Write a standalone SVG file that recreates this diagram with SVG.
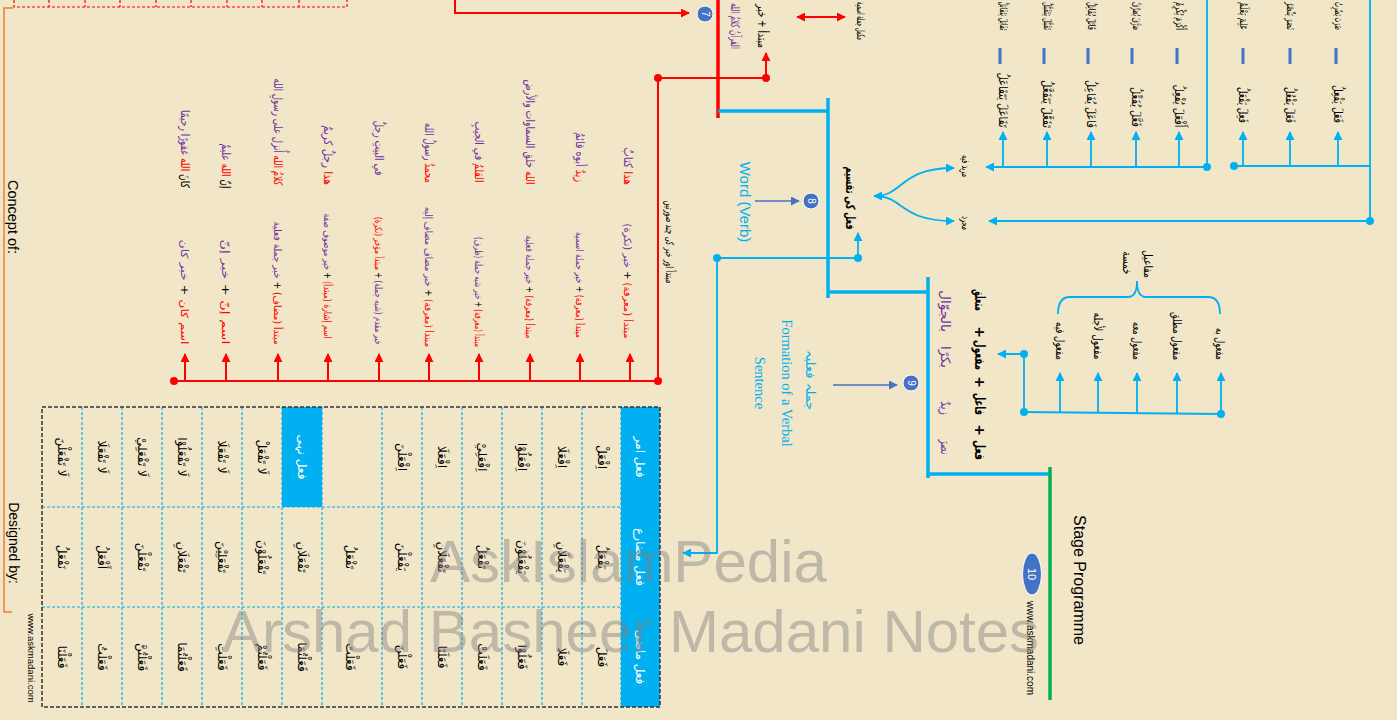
<svg xmlns="http://www.w3.org/2000/svg" width="1397" height="720" viewBox="0 0 1397 720">
<defs>
<marker id="mr" viewBox="0 0 10 10" refX="9" refY="5" markerWidth="9" markerHeight="9" markerUnits="userSpaceOnUse" orient="auto-start-reverse"><path d="M0,0 L10,5 L0,10 z" fill="#FF0000"/></marker>
<marker id="mb" viewBox="0 0 10 10" refX="9" refY="5" markerWidth="9" markerHeight="9" markerUnits="userSpaceOnUse" orient="auto-start-reverse"><path d="M0,0 L10,5 L0,10 z" fill="#00B0F0"/></marker>
<marker id="md" viewBox="0 0 10 10" refX="9" refY="5" markerWidth="9" markerHeight="9" markerUnits="userSpaceOnUse" orient="auto-start-reverse"><path d="M0,0 L10,5 L0,10 z" fill="#4472C4"/></marker>
<style>
.ar{font-family:"DejaVu Sans","Noto Sans",sans-serif;direction:rtl;text-anchor:middle;dominant-baseline:central;fill:#000}
.en{font-family:"Liberation Sans",Arial,sans-serif;text-anchor:middle;dominant-baseline:central}
.f9{font-size:9px}.f10{font-size:10px}.f11{font-size:11px}.f12{font-size:12px}.f13{font-size:13px}.f14{font-size:14px}
.r{fill:#FF0000}.p{fill:#7030A0}.k{fill:#000}.w{fill:#fff}.bl{fill:#00B0F0}
.lr{stroke:#FF0000;stroke-width:2;fill:none}
.lb{stroke:#00B0F0;stroke-width:1.8;fill:none}
.lbt{stroke:#00B0F0;stroke-width:3.5;fill:none}
.dr{fill:#FF0000}.db{fill:#00B0F0}
.node circle,.node ellipse{fill:#4472C4;stroke:#fff;stroke-width:1}
.dash{stroke:#00B0F0;stroke-width:1.2;stroke-dasharray:3,2;fill:none}
.dash2{stroke:#4472C4;stroke-width:3}
</style>
</defs>
<rect width="1397" height="720" fill="#F1E6C8"/>

<!-- top-left red dashed table remnant -->
<g id="red-table" stroke="#FF0000" stroke-width="1.2" stroke-dasharray="3,2" fill="none">
<path d="M14,0 V7 H347 V0 M49,0 V7 M85,0 V7 M120,0 V7 M156,0 V7 M191,0 V7 M227,0 V7 M262,0 V7 M299,0 V7"/>
</g>

<!-- orange frame -->
<path d="M13,8 H4 V612 H12" stroke="#ED7D31" stroke-width="1.5" fill="none"/>
<text class="en" font-size="14.5" transform="translate(13,217) rotate(90)">Concept of:</text>
<text class="en" font-size="14" transform="translate(14,543) rotate(90)">Designed by:</text>
<text class="en" font-size="9.5" transform="translate(31,658) rotate(90)">www.askmadani.com</text>

<!-- connectors -->
<g id="connectors">
<path class="lr" d="M455,0 V13 H689" marker-end="url(#mr)"/>
<line x1="718" y1="0" x2="718" y2="118" stroke="#FF0000" stroke-width="3.5"/>
<path class="lr" d="M658,381 V78 H766"/>
<line class="lr" x1="766" y1="78" x2="766" y2="53" marker-end="url(#mr)"/>
<line class="lr" x1="797" y1="17" x2="845" y2="17" stroke-width="1.5" marker-start="url(#mr)" marker-end="url(#mr)"/>
<line class="lr" x1="174" y1="381" x2="658" y2="381"/>
<g marker-end="url(#mr)">
<line class="lr" x1="185" y1="381" x2="185" y2="354"/>
<line class="lr" x1="226" y1="381" x2="226" y2="354"/>
<line class="lr" x1="278" y1="381" x2="278" y2="354"/>
<line class="lr" x1="328" y1="381" x2="328" y2="354"/>
<line class="lr" x1="379" y1="381" x2="379" y2="354"/>
<line class="lr" x1="429" y1="381" x2="429" y2="354"/>
<line class="lr" x1="479" y1="381" x2="479" y2="354"/>
<line class="lr" x1="530" y1="381" x2="530" y2="354"/>
<line class="lr" x1="580" y1="381" x2="580" y2="354"/>
<line class="lr" x1="630" y1="381" x2="630" y2="354"/>
</g>
<circle class="dr" cx="174" cy="381" r="4"/>
<circle class="dr" cx="658" cy="381" r="4"/>
<circle class="dr" cx="658" cy="78" r="4"/>
<circle class="dr" cx="766" cy="78" r="4"/>

<path class="lbt" d="M718,111 H828 M828,98 V298 M828,292 H928 M928,277 V478 M928,474 H1050"/>
<line x1="1050" y1="467" x2="1050" y2="700" stroke="#00B050" stroke-width="3.5"/>

<path class="lb" d="M717,258 H858"/>
<line class="lb" x1="858" y1="258" x2="858" y2="233" marker-end="url(#mb)"/>
<path class="lb" d="M717,258 V553 H683" marker-end="url(#mb)"/>
<circle class="db" cx="717" cy="258" r="4"/>
<circle class="db" cx="858" cy="258" r="4"/>

<line x1="755" y1="201" x2="799" y2="201" stroke="#4472C4" stroke-width="1.5" marker-end="url(#md)"/>
<line x1="833" y1="385" x2="897" y2="385" stroke="#4472C4" stroke-width="1.5" marker-end="url(#md)"/>

<path class="lb" d="M874,196 C905,196 898,168 954,168" marker-start="url(#mb)" marker-end="url(#mb)"/>
<path class="lb" d="M874,196 C905,196 898,221 954,221" marker-end="url(#mb)"/>

<path class="lb" d="M1207,0 V167 H986" marker-end="url(#mb)"/>
<circle class="db" cx="1207" cy="167" r="4"/>
<g marker-end="url(#mb)">
<line class="lb" x1="1003" y1="167" x2="1003" y2="132"/>
<line class="lb" x1="1047" y1="167" x2="1047" y2="132"/>
<line class="lb" x1="1091" y1="167" x2="1091" y2="132"/>
<line class="lb" x1="1136" y1="167" x2="1136" y2="132"/>
<line class="lb" x1="1179" y1="167" x2="1179" y2="132"/>
</g>
<path class="lb" d="M1234,166 H1370 M1370,0 V221 H989" marker-end="url(#mb)"/>
<circle class="db" cx="1234" cy="166" r="4"/>
<circle class="db" cx="1370" cy="221" r="4"/>
<g marker-end="url(#mb)">
<line class="lb" x1="1243" y1="166" x2="1243" y2="132"/>
<line class="lb" x1="1290" y1="166" x2="1290" y2="132"/>
<line class="lb" x1="1338" y1="166" x2="1338" y2="132"/>
</g>

<path class="lb" d="M1024,412 V354 H998" marker-end="url(#mb)"/>
<path class="lb" d="M1024,412 L1221,414"/>
<circle class="db" cx="1024" cy="354" r="4"/>
<circle class="db" cx="1024" cy="412" r="4"/>
<circle class="db" cx="1221" cy="414" r="4"/>
<g marker-end="url(#mb)">
<line class="lb" x1="1060" y1="413" x2="1060" y2="373"/>
<line class="lb" x1="1098" y1="413" x2="1098" y2="373"/>
<line class="lb" x1="1137" y1="413" x2="1137" y2="373"/>
<line class="lb" x1="1177" y1="414" x2="1177" y2="373"/>
<line class="lb" x1="1221" y1="414" x2="1221" y2="373"/>
</g>
<path class="lb" d="M1058,314 Q1058,297 1070,297 H1128 Q1137,297 1137,281 Q1137,297 1146,297 H1208 Q1220,297 1220,314"/>

<g class="dash2">
<line x1="1000" y1="48" x2="1000" y2="64"/><line x1="1044" y1="48" x2="1044" y2="64"/>
<line x1="1088" y1="48" x2="1088" y2="64"/><line x1="1132" y1="48" x2="1132" y2="64"/>
<line x1="1177" y1="48" x2="1177" y2="64"/><line x1="1243" y1="48" x2="1243" y2="64"/>
<line x1="1290" y1="48" x2="1290" y2="64"/><line x1="1336" y1="48" x2="1336" y2="64"/>
</g>
</g>

<!-- nodes -->
<g id="node7" class="node"><circle cx="705" cy="14" r="8"/><text class="en w" font-size="10" transform="translate(705,14) rotate(90)">7</text></g>
<g id="node8" class="node"><circle cx="811" cy="201" r="8"/><text class="en w" font-size="10" transform="translate(811,201) rotate(90)">8</text></g>
<g id="node9" class="node"><circle cx="911" cy="383" r="8"/><text class="en w" font-size="10" transform="translate(911,383) rotate(90)">9</text></g>
<g id="node10" class="node"><ellipse cx="1032" cy="574" rx="9.5" ry="21"/><text class="en w" font-size="11" transform="translate(1032,574) rotate(90)">10</text></g>

<g id="jumla-ismiya">
<text class="ar f12 p" textLength="46" lengthAdjust="spacingAndGlyphs" transform="translate(735,26) rotate(90)">القرآنُ كلامُ الله</text>
<text class="ar f12 k" textLength="44" lengthAdjust="spacingAndGlyphs" transform="translate(762,26) rotate(90)">مبتدأ + خبر</text>
<text class="ar f11 k" textLength="38" lengthAdjust="spacingAndGlyphs" transform="translate(860,21) rotate(90)">مكمل جملة اسمية</text>
<text class="ar f11 k" textLength="83" lengthAdjust="spacingAndGlyphs" transform="translate(669,242) rotate(90)">مبتدأ اور خبر کی چند صورتیں</text>
</g>

<g id="mubtada-examples">
<text class="ar f12" textLength="38" lengthAdjust="spacingAndGlyphs" transform="translate(628,166) rotate(90)"><tspan class="r">هذا</tspan><tspan class="p"> كتابٌ</tspan></text>
<text class="ar f10" textLength="115" lengthAdjust="spacingAndGlyphs" transform="translate(628,281) rotate(90)"><tspan class="r">مبتدأ (معرفة)</tspan><tspan class="k"> + </tspan><tspan class="p">خبر (نكرة)</tspan></text>
<text class="ar f12" textLength="50" lengthAdjust="spacingAndGlyphs" transform="translate(580,157) rotate(90)"><tspan class="r">زيدٌ</tspan><tspan class="p"> أبوه قائمٌ</tspan></text>
<text class="ar f10" textLength="106" lengthAdjust="spacingAndGlyphs" transform="translate(580,285) rotate(90)"><tspan class="r">مبتدأ (معرفة)</tspan><tspan class="k"> + </tspan><tspan class="p">خبر جملة اسمية</tspan></text>
<text class="ar f12" textLength="105" lengthAdjust="spacingAndGlyphs" transform="translate(530,132) rotate(90)"><tspan class="r">الله</tspan><tspan class="p"> خلق السماوات والأرض</tspan></text>
<text class="ar f10" textLength="103" lengthAdjust="spacingAndGlyphs" transform="translate(530,287) rotate(90)"><tspan class="r">مبتدأ (معرفة)</tspan><tspan class="k"> + </tspan><tspan class="p">خبر جملة فعلية</tspan></text>
<text class="ar f12" textLength="61" lengthAdjust="spacingAndGlyphs" transform="translate(479,152) rotate(90)"><tspan class="r">القلمُ</tspan><tspan class="p"> في الجيبِ</tspan></text>
<text class="ar f10" textLength="110" lengthAdjust="spacingAndGlyphs" transform="translate(479,292) rotate(90)"><tspan class="r">مبتدأ (معرفة)</tspan><tspan class="k"> + </tspan><tspan class="p">خبر شبه جملة (ظرف)</tspan></text>
<text class="ar f12" textLength="60" lengthAdjust="spacingAndGlyphs" transform="translate(429,153) rotate(90)"><tspan class="r">محمدٌ</tspan><tspan class="p"> رسولُ الله</tspan></text>
<text class="ar f10" textLength="140" lengthAdjust="spacingAndGlyphs" transform="translate(429,277) rotate(90)"><tspan class="r">مبتدأ (معرفة)</tspan><tspan class="k"> + </tspan><tspan class="p">خبر مضاف مضاف إليه</tspan></text>
<text class="ar f12" textLength="55" lengthAdjust="spacingAndGlyphs" transform="translate(379,148) rotate(90)"><tspan class="p">في البيتِ رجلٌ</tspan></text>
<text class="ar f10" textLength="128" lengthAdjust="spacingAndGlyphs" transform="translate(379,281) rotate(90)"><tspan class="p">خبر مقدم (شبه جملة)</tspan><tspan class="k"> + </tspan><tspan class="r">مبتدأ مؤخر (نكرة)</tspan></text>
<text class="ar f12" textLength="60" lengthAdjust="spacingAndGlyphs" transform="translate(328,155) rotate(90)"><tspan class="r">هذا</tspan><tspan class="p"> رجلٌ كريمٌ</tspan></text>
<text class="ar f10" textLength="125" lengthAdjust="spacingAndGlyphs" transform="translate(328,276) rotate(90)"><tspan class="r">اسم إشارة (مبتدأ)</tspan><tspan class="k"> + </tspan><tspan class="p">خبر موصوف صفة</tspan></text>
<text class="ar f12" textLength="107" lengthAdjust="spacingAndGlyphs" transform="translate(278,132) rotate(90)"><tspan class="r">كلامُ الله</tspan><tspan class="p"> أُنزل على رسولِ الله</tspan></text>
<text class="ar f10" textLength="123" lengthAdjust="spacingAndGlyphs" transform="translate(278,283) rotate(90)"><tspan class="r">مبتدأ (مضاف)</tspan><tspan class="k"> + </tspan><tspan class="p">خبر جملة فعلية</tspan></text>
<text class="ar f12" textLength="45" lengthAdjust="spacingAndGlyphs" transform="translate(226,166) rotate(90)"><tspan class="k">إنّ </tspan><tspan class="r">الله</tspan><tspan class="p"> عليمٌ</tspan></text>
<text class="ar f10" textLength="105" lengthAdjust="spacingAndGlyphs" transform="translate(226,292) rotate(90)"><tspan class="r">اسم إنّ</tspan><tspan class="k">     +     </tspan><tspan class="p">خبر إنّ</tspan></text>
<text class="ar f12" textLength="78" lengthAdjust="spacingAndGlyphs" transform="translate(185,149) rotate(90)"><tspan class="k">كانَ </tspan><tspan class="r">الله</tspan><tspan class="p"> غفورًا رحيمًا</tspan></text>
<text class="ar f10" textLength="105" lengthAdjust="spacingAndGlyphs" transform="translate(185,292) rotate(90)"><tspan class="r">اسم كان</tspan><tspan class="k">     +     </tspan><tspan class="p">خبر كان</tspan></text>
</g>

<g id="word-verb">
<text class="en bl" font-size="15" transform="translate(745,202) rotate(90)">Word (Verb)</text>
<text class="ar f13 k" font-weight="bold" textLength="63" lengthAdjust="spacingAndGlyphs" transform="translate(850,198) rotate(90)">فعل کی تقسیم</text>
<text class="ar f11 k" textLength="22" lengthAdjust="spacingAndGlyphs" transform="translate(965,166) rotate(90)">مزید فیه</text>
<text class="ar f11 k" textLength="14" lengthAdjust="spacingAndGlyphs" transform="translate(965,223) rotate(90)">مجرد</text>
</g>

<g id="verb-forms">
<text class="ar f12" textLength="55" lengthAdjust="spacingAndGlyphs" transform="translate(1003,100) rotate(90)">تَفَاعَلَ يَتَفَاعَلُ</text>
<text class="ar f12" textLength="48" lengthAdjust="spacingAndGlyphs" transform="translate(1047,104) rotate(90)">تَفَعَّلَ يَتَفَعَّلُ</text>
<text class="ar f12" textLength="48" lengthAdjust="spacingAndGlyphs" transform="translate(1091,104) rotate(90)">فَاعَلَ يُفَاعِلُ</text>
<text class="ar f12" textLength="40" lengthAdjust="spacingAndGlyphs" transform="translate(1136,107) rotate(90)">فَعَّلَ يُفَعِّلُ</text>
<text class="ar f12" textLength="43" lengthAdjust="spacingAndGlyphs" transform="translate(1179,106) rotate(90)">أَفْعَلَ يُفْعِلُ</text>
<text class="ar f12" textLength="36" lengthAdjust="spacingAndGlyphs" transform="translate(1243,105) rotate(90)">فَعِلَ يَفْعَلُ</text>
<text class="ar f12" textLength="36" lengthAdjust="spacingAndGlyphs" transform="translate(1290,105) rotate(90)">فَعَلَ يَفْعُلُ</text>
<text class="ar f12" textLength="38" lengthAdjust="spacingAndGlyphs" transform="translate(1338,104) rotate(90)">فَعَلَ يَفْعِلُ</text>
<text class="ar f11" textLength="29" lengthAdjust="spacingAndGlyphs" transform="translate(1003,16) rotate(90)">تَقَابَلَ يَتَقَابَلُ</text>
<text class="ar f11" textLength="28" lengthAdjust="spacingAndGlyphs" transform="translate(1047,16) rotate(90)">تَقَبَّلَ يَتَقَبَّلُ</text>
<text class="ar f11" textLength="28" lengthAdjust="spacingAndGlyphs" transform="translate(1091,16) rotate(90)">قَاتَلَ يُقَاتِلُ</text>
<text class="ar f11" textLength="28" lengthAdjust="spacingAndGlyphs" transform="translate(1136,16) rotate(90)">صَرَّفَ يُصَرِّفُ</text>
<text class="ar f11" textLength="28" lengthAdjust="spacingAndGlyphs" transform="translate(1179,16) rotate(90)">أَكْرَمَ يُكْرِمُ</text>
<text class="ar f11" textLength="28" lengthAdjust="spacingAndGlyphs" transform="translate(1243,16) rotate(90)">عَلِمَ يَعْلَمُ</text>
<text class="ar f11" textLength="28" lengthAdjust="spacingAndGlyphs" transform="translate(1290,16) rotate(90)">نَصَرَ يَنْصُرُ</text>
<text class="ar f11" textLength="28" lengthAdjust="spacingAndGlyphs" transform="translate(1338,16) rotate(90)">ضَرَبَ يَضْرِبُ</text>
</g>

<g id="verbal-sentence">
<text class="ar f13 bl" transform="translate(810,380) rotate(90)">جملہ فعلیہ</text>
<text font-family="Liberation Serif,serif" font-size="14.5" fill="#00B0F0" text-anchor="middle" dominant-baseline="central" transform="translate(787,383) rotate(90)">Formation of a Verbal</text>
<text font-family="Liberation Serif,serif" font-size="14.5" fill="#00B0F0" text-anchor="middle" dominant-baseline="central" transform="translate(760,383) rotate(90)">Sentence</text>
<g class="ar f14 k" font-weight="bold" lengthAdjust="spacingAndGlyphs">
<text textLength="22" lengthAdjust="spacingAndGlyphs" transform="translate(980,300) rotate(90)">متعلق</text>
<text transform="translate(980,332) rotate(90)">+</text>
<text textLength="30" lengthAdjust="spacingAndGlyphs" transform="translate(980,355) rotate(90)">مفعول</text>
<text transform="translate(980,382) rotate(90)">+</text>
<text textLength="22" lengthAdjust="spacingAndGlyphs" transform="translate(980,404) rotate(90)">فاعل</text>
<text transform="translate(980,430) rotate(90)">+</text>
<text textLength="20" lengthAdjust="spacingAndGlyphs" transform="translate(980,450) rotate(90)">فعل</text>
</g>
<g class="ar f13 p">
<text textLength="42" lengthAdjust="spacingAndGlyphs" transform="translate(945,311) rotate(90)">بالجوّال</text>
<text textLength="22" lengthAdjust="spacingAndGlyphs" transform="translate(945,357) rotate(90)">بكرًا</text>
<text textLength="14" lengthAdjust="spacingAndGlyphs" transform="translate(945,408) rotate(90)">زيدٌ</text>
<text textLength="15" lengthAdjust="spacingAndGlyphs" transform="translate(945,447) rotate(90)">نصرَ</text>
</g>
</g>

<g id="mafaool">
<text class="ar f12" textLength="38" lengthAdjust="spacingAndGlyphs" transform="translate(1060,341) rotate(90)">مفعول فيه</text>
<text class="ar f12" textLength="47" lengthAdjust="spacingAndGlyphs" transform="translate(1098,336) rotate(90)">مفعول لأجله</text>
<text class="ar f12" textLength="38" lengthAdjust="spacingAndGlyphs" transform="translate(1137,341) rotate(90)">مفعول معه</text>
<text class="ar f12" textLength="48" lengthAdjust="spacingAndGlyphs" transform="translate(1177,336) rotate(90)">مفعول مطلق</text>
<text class="ar f12" textLength="32" lengthAdjust="spacingAndGlyphs" transform="translate(1220,344) rotate(90)">مفعول به</text>
<text class="ar f12" textLength="28" lengthAdjust="spacingAndGlyphs" transform="translate(1148,264) rotate(90)">مفاعيل</text>
<text class="ar f12" textLength="23" lengthAdjust="spacingAndGlyphs" transform="translate(1127,263) rotate(90)">خمسة</text>
</g>

<g id="stage">
<text class="en" font-size="16" transform="translate(1079,580) rotate(90)">Stage Programme</text>
<text class="en" font-size="10" transform="translate(1030,648) rotate(90)">www.askmadani.com</text>
</g>

<g id="table">
<rect x="621" y="407" width="39" height="300" fill="#00B0F0"/>
<rect x="282" y="407" width="40" height="100" fill="#00B0F0"/>
<path class="dash" d="M42,507 H621 M42,607 H621 M82,407 V707 M122,407 V707 M162,407 V707 M202,407 V707 M242,407 V707 M282,407 V707 M322,407 V707 M382,407 V707 M422,407 V707 M462,407 V707 M502,407 V707 M542,407 V707 M582,407 V707 M621,407 V707"/>
<rect x="42" y="407" width="618" height="300" fill="none" stroke="#333" stroke-width="1.5" stroke-dasharray="4,2"/>
<g class="ar f12 w">
<text transform="translate(640,457) rotate(90)">فعل امر</text>
<text transform="translate(640,557) rotate(90)">فعل مضارع</text>
<text transform="translate(640,657) rotate(90)">فعل ماضی</text>
<text transform="translate(302,457) rotate(90)">فعل نہی</text>
</g>
<g class="ar f12">
<text transform="translate(602,457) rotate(90)">اِفْعَلْ</text>
<text transform="translate(562,457) rotate(90)">اِفْعَلَا</text>
<text transform="translate(522,457) rotate(90)">اِفْعَلُوْا</text>
<text transform="translate(482,457) rotate(90)">اِفْعَلِيْ</text>
<text transform="translate(442,457) rotate(90)">اِفْعَلَا</text>
<text transform="translate(402,457) rotate(90)">اِفْعَلْنَ</text>
<text transform="translate(262,457) rotate(90)">لَا تَفْعَلْ</text>
<text transform="translate(222,457) rotate(90)">لَا تَفْعَلَا</text>
<text transform="translate(182,457) rotate(90)">لَا تَفْعَلُوْا</text>
<text transform="translate(142,457) rotate(90)">لَا تَفْعَلِيْ</text>
<text transform="translate(102,457) rotate(90)">لَا تَفْعَلَا</text>
<text transform="translate(62,457) rotate(90)">لَا تَفْعَلْنَ</text>

<text transform="translate(602,557) rotate(90)">يَفْعَلُ</text>
<text transform="translate(562,557) rotate(90)">يَفْعَلَانِ</text>
<text transform="translate(522,557) rotate(90)">يَفْعَلُوْنَ</text>
<text transform="translate(482,557) rotate(90)">تَفْعَلُ</text>
<text transform="translate(442,557) rotate(90)">تَفْعَلَانِ</text>
<text transform="translate(402,557) rotate(90)">يَفْعَلْنَ</text>
<text transform="translate(350,557) rotate(90)">تَفْعَلُ</text>
<text transform="translate(302,557) rotate(90)">تَفْعَلَانِ</text>
<text transform="translate(262,557) rotate(90)">تَفْعَلُوْنَ</text>
<text transform="translate(222,557) rotate(90)">تَفْعَلِيْنَ</text>
<text transform="translate(182,557) rotate(90)">تَفْعَلَانِ</text>
<text transform="translate(142,557) rotate(90)">تَفْعَلْنَ</text>
<text transform="translate(102,557) rotate(90)">أَفْعَلُ</text>
<text transform="translate(62,557) rotate(90)">نَفْعَلُ</text>

<text transform="translate(602,657) rotate(90)">فَعَلَ</text>
<text transform="translate(562,657) rotate(90)">فَعَلَا</text>
<text transform="translate(522,657) rotate(90)">فَعَلُوْا</text>
<text transform="translate(482,657) rotate(90)">فَعَلَتْ</text>
<text transform="translate(442,657) rotate(90)">فَعَلَتَا</text>
<text transform="translate(402,657) rotate(90)">فَعَلْنَ</text>
<text transform="translate(350,657) rotate(90)">فَعَلْتَ</text>
<text transform="translate(302,657) rotate(90)">فَعَلْتُمَا</text>
<text transform="translate(262,657) rotate(90)">فَعَلْتُمْ</text>
<text transform="translate(222,657) rotate(90)">فَعَلْتِ</text>
<text transform="translate(182,657) rotate(90)">فَعَلْتُمَا</text>
<text transform="translate(142,657) rotate(90)">فَعَلْتُنَّ</text>
<text transform="translate(102,657) rotate(90)">فَعَلْتُ</text>
<text transform="translate(62,657) rotate(90)">فَعَلْنَا</text>
</g>
</g>

<g font-family="Liberation Sans,Arial,sans-serif" font-size="60" fill="#808080" fill-opacity="0.45">
<text x="430" y="582">AskIslamPedia</text>
<text x="222" y="652">Arshad Basheer Madani Notes</text>
</g>
</svg>
